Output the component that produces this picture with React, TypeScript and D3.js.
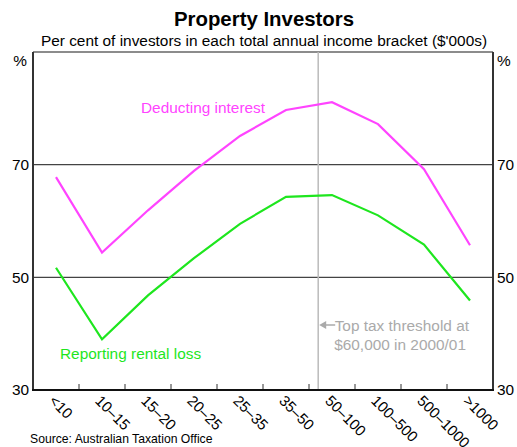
import * as d3 from 'd3';
import React from 'react';

const categories = ['<10', '10–15', '15–20', '20–25', '25–35', '35–50', '50–100', '100–500', '500–1000', '>1000'];
const deductingInterest = [67.8, 54.4, 61.9, 68.9, 75.1, 79.7, 81.1, 77.2, 69.2, 55.7];
const reportingRentalLoss = [51.7, 39.0, 46.8, 53.4, 59.5, 64.3, 64.6, 61.0, 55.8, 45.9];
const yTicks = [30, 50, 70];

const W = 517;
const H = 447;
const margin = { top: 52, right: 24, bottom: 57, left: 33 };
const font = 'Arial, "Liberation Sans", sans-serif';

const App = () => {
    const x = d3
        .scaleBand()
        .domain(categories)
        .range([margin.left, W - margin.right]);
    const y = d3
        .scaleLinear()
        .domain([30, 90])
        .range([H - margin.bottom, margin.top]);
    const cx = (i: number) => (x(categories[i]) as number) + x.bandwidth() / 2;
    const line = d3
        .line<number>()
        .x((d, i) => cx(i))
        .y((d) => y(d));

    // top tax threshold: $60k within the 50–100 band
    const band = x('50–100') as number;
    const thresholdX = band + ((60 - 50) / 50) * x.bandwidth();

    const left = margin.left;
    const right = W - margin.right;
    const bottom = y(30);
    const top = y(90);

    return (
        <svg
            width={W}
            height={H}
            viewBox={`0 0 ${W} ${H}`}
            style={{ position: 'absolute', left: 0, top: 0, background: '#fff' }}
            fontFamily={font}
        >
            <text x={264} y={26} textAnchor="middle" fontSize={20.4} fontWeight="bold">Property Investors</text>
            <text x={264} y={46} textAnchor="middle" fontSize={15.4}>Per cent of investors in each total annual income bracket ($'000s)</text>

            <line x1={left} x2={right} y1={top} y2={top} stroke="#666" strokeWidth={1.5} />
            {yTicks.slice(1).map((t) => (
                <line key={t} x1={left} x2={right} y1={y(t)} y2={y(t)} stroke="#444" strokeWidth={1.2} />
            ))}
            <line x1={thresholdX} x2={thresholdX} y1={top} y2={bottom} stroke="#bbb" strokeWidth={1.5} />

            {categories.slice(1).map((c) => (
                <line key={c} x1={x(c)} x2={x(c)} y1={bottom} y2={bottom - 6} stroke="#333" strokeWidth={1} />
            ))}

            <line x1={left} x2={left} y1={top} y2={bottom} stroke="#333" strokeWidth={2} />
            <line x1={right} x2={right} y1={top} y2={bottom} stroke="#333" strokeWidth={2} />
            <line x1={left - 1} x2={right + 1} y1={bottom} y2={bottom} stroke="#111" strokeWidth={2} />

            {yTicks.map((t) => (
                <g key={t} fontSize={15.4}>
                    <text x={left - 4} y={y(t)} dy="0.35em" textAnchor="end">{t}</text>
                    <text x={right + 4} y={y(t)} dy="0.35em" textAnchor="start">{t}</text>
                </g>
            ))}
            <text x={left - 6} y={66} textAnchor="end" fontSize={15.4}>%</text>
            <text x={right + 4} y={66} textAnchor="start" fontSize={15.4}>%</text>

            <path d={line(deductingInterest) as string} fill="none" stroke="#ff44ff" strokeWidth={2.2} />
            <path d={line(reportingRentalLoss) as string} fill="none" stroke="#1ee61e" strokeWidth={2.2} />

            <text x={141} y={113} fontSize={15.4} fill="#ff44ff">Deducting interest</text>
            <text x={60} y={359} fontSize={15.4} fill="#1ee61e">Reporting rental loss</text>

            <g fill="#aaa" stroke="#aaa">
                <line x1={thresholdX + 3} x2={thresholdX + 17} y1={325} y2={325} strokeWidth={1.5} />
                <path d={`M${thresholdX + 1},325 l7,-4 l0,8 z`} stroke="none" />
            </g>
            <text x={469} y={331} textAnchor="end" fontSize={15.4} fill="#aaa">Top tax threshold at</text>
            <text x={466} y={350} textAnchor="end" fontSize={15.4} fill="#aaa">$60,000 in 2000/01</text>

            {categories.map((c, i) => (
                <text
                    key={c}
                    transform={`translate(${cx(i) - 4},${bottom + 8}) rotate(45)`}
                    fontSize={15}
                    textAnchor="start"
                    dy="0.35em"
                >
                    {c}
                </text>
            ))}

            <text x={30} y={443} fontSize={12.2}>Source: Australian Taxation Office</text>
        </svg>
    );
};

export default App;
